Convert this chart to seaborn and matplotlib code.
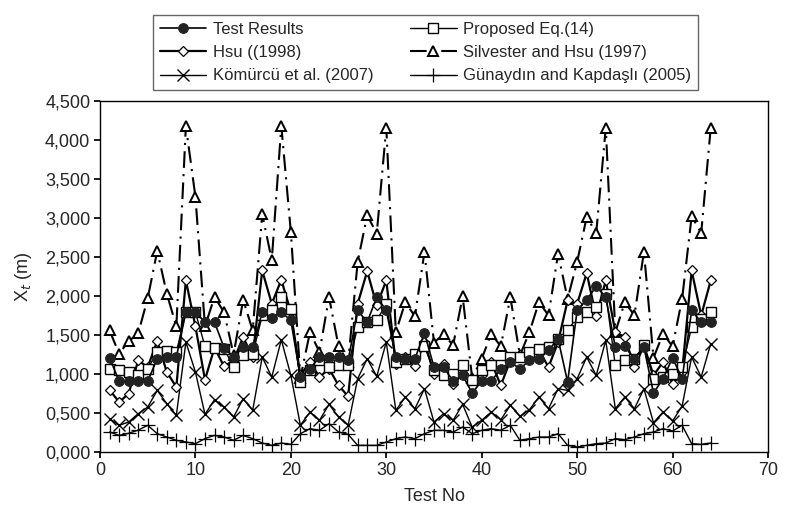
import matplotlib
matplotlib.use("Agg")
import matplotlib.pyplot as plt
import seaborn as sns
import numpy as np
from matplotlib.ticker import FuncFormatter, MultipleLocator

test_no = list(range(1, 65))

test_results = [1208, 909, 909, 909, 909, 1196, 1217, 1217, 1793, 1793, 1665, 1665, 1337, 1217, 1345, 1345,
                1793, 1720, 1793, 1687, 961, 1067, 1217, 1217, 1217, 1174, 1815, 1665, 1986, 1815, 1217, 1196,
                1196, 1524, 1089, 1089, 909, 982, 756, 909, 909, 1067, 1153, 1067, 1174, 1196, 1302, 1452,
                897, 1815, 1951, 2122, 1986, 1345, 1354, 1196, 1345, 756, 939, 1208, 939, 1815, 1665, 1665]
proposed = [1067, 1046, 1025, 982, 1067, 1281, 1294, 1281, 1793, 1793, 1354, 1337, 1324, 1089, 1238, 1251,
            1751, 1815, 1986, 1836, 897, 1046, 1174, 1089, 1110, 1110, 1601, 1665, 1687, 1900, 1153, 1196,
            1260, 1354, 1046, 982, 1003, 1110, 918, 1046, 1110, 1110, 1217, 1217, 1281, 1324, 1345, 1452,
            1558, 1729, 1793, 1857, 2028, 1110, 1174, 1196, 1366, 939, 961, 1003, 1089, 1601, 1708, 1793]
hsu = [798, 640, 747, 1174, 1089, 1422, 1025, 833, 2199, 1610, 927, 1337, 1097, 1174, 1473, 1217,
       2327, 1900, 2208, 1793, 982, 1153, 961, 1067, 854, 713, 1900, 2318, 1879, 2199, 1132, 1217,
       1097, 1409, 1003, 1132, 875, 1003, 939, 982, 1153, 854, 1174, 1238, 1281, 1302, 1089, 1409,
       1943, 1900, 2293, 1738, 2199, 1537, 1473, 1089, 1366, 982, 1153, 867, 1025, 2327, 1751, 2199]
silvester = [1560, 1260, 1420, 1520, 1970, 2580, 2030, 1610, 4180, 3270, 1610, 1990, 1790, 1250, 1950, 1560,
             3050, 2460, 4180, 2820, 950, 1537, 1281, 1986, 1354, 1150, 2436, 3035, 2800, 4160, 1537, 1922,
             1738, 2564, 1400, 1516, 1366, 1994, 950, 1196, 1516, 1354, 1986, 1238, 1537, 1922, 1751, 2543,
             1964, 2436, 3013, 2808, 4159, 1537, 1922, 1751, 2564, 1208, 1516, 1354, 1964, 3022, 2808, 4159]
komurcu = [427, 342, 384, 491, 576, 790, 619, 470, 1409, 1025, 482, 670, 576, 448, 683, 534,
           1217, 961, 1439, 982, 342, 512, 406, 611, 448, 342, 939, 1196, 969, 1409, 534, 705,
           555, 811, 384, 491, 406, 611, 320, 406, 512, 414, 598, 457, 542, 705, 555, 811,
           790, 939, 1217, 982, 1430, 555, 705, 555, 811, 376, 512, 397, 589, 1217, 961, 1388]
gunaydin = [256, 213, 240, 280, 342, 235, 192, 150, 128, 107, 171, 213, 192, 150, 213, 171,
            115, 85, 115, 98, 235, 299, 278, 363, 256, 226, 85, 85, 85, 128, 171, 192,
            171, 235, 278, 278, 256, 320, 235, 278, 299, 278, 342, 150, 171, 192, 192, 235,
            85, 64, 85, 107, 115, 171, 158, 192, 235, 256, 299, 269, 342, 107, 98, 115]

labels = ['Test Results', 'Proposed Eq.(14)', 'Hsu ((1998)', 'Silvester and Hsu (1997)',
          'Kömürcü et al. (2007)', 'Günaydın and Kapdaşlı (2005)']

sns.set_theme(style='white')
plt.rcParams['font.family'] = ['Liberation Sans', 'DejaVu Sans']

fig = plt.figure(figsize=(7.9, 5.08), dpi=100)
ax = fig.add_axes([100 / 790, 1 - 452 / 508, 668 / 790, 351 / 508])

x = np.array(test_no)
sns.lineplot(x=x, y=test_results, ax=ax, color='black', lw=1.2, marker='o', markersize=7,
             markerfacecolor='#222222', markeredgecolor='#222222', label=labels[0], zorder=6)
sns.lineplot(x=x, y=proposed, ax=ax, color='black', lw=1.0, marker='s', markersize=7,
             markerfacecolor='white', markeredgecolor='black', markeredgewidth=1.0, label=labels[1], zorder=5)
sns.lineplot(x=x, y=hsu, ax=ax, color='black', lw=1.6, marker='D', markersize=5,
             markerfacecolor='white', markeredgecolor='black', markeredgewidth=0.9, label=labels[2], zorder=4)
sns.lineplot(x=x, y=silvester, ax=ax, color='black', lw=1.5, linestyle=(0, (8, 3, 1, 3)), marker='^',
             markersize=7, markerfacecolor='white', markeredgecolor='black', markeredgewidth=1.4,
             label=labels[3], zorder=3)
sns.lineplot(x=x, y=komurcu, ax=ax, color='black', lw=1.0, marker='x', markersize=8,
             markeredgecolor='black', markeredgewidth=1.0, label=labels[4], zorder=2)
sns.lineplot(x=x, y=gunaydin, ax=ax, color='black', lw=1.0, marker='+', markersize=10,
             markeredgecolor='black', markeredgewidth=0.9, label=labels[5], zorder=2)

ax.set_xlim(0, 70)
ax.set_ylim(0, 4500)
ax.xaxis.set_major_locator(MultipleLocator(10))
ax.yaxis.set_major_locator(MultipleLocator(500))
ax.yaxis.set_major_formatter(FuncFormatter(lambda v, p: ('%.3f' % (v / 1000)).replace('.', ',')))
ax.tick_params(axis='both', which='major', length=4, direction='out', labelsize=13, color='black',
               left=True, bottom=True, pad=3)
for s in ax.spines.values():
    s.set_color('black')
    s.set_linewidth(1.0)
ax.set_xlabel('Test No', fontsize=13, labelpad=7)
ax.set_ylabel('X$_t$ (m)', fontsize=13, labelpad=8)

handles, labs = ax.get_legend_handles_labels()
ax.get_legend().remove()
order = [0, 2, 4, 1, 3, 5]
fig.legend([handles[i] for i in order], [labs[i] for i in order], loc='upper left',
           bbox_to_anchor=(153 / 790, 1 - 87 / 508, 545 / 790, 72 / 508), mode='expand', ncol=2,
           fontsize=12, frameon=True, fancybox=False, edgecolor='#666666', framealpha=1,
           handlelength=2.8, handletextpad=0.4, borderaxespad=0, labelspacing=0.5, columnspacing=1.0,
           borderpad=0.4)

fig.savefig('out.png', dpi=100)
